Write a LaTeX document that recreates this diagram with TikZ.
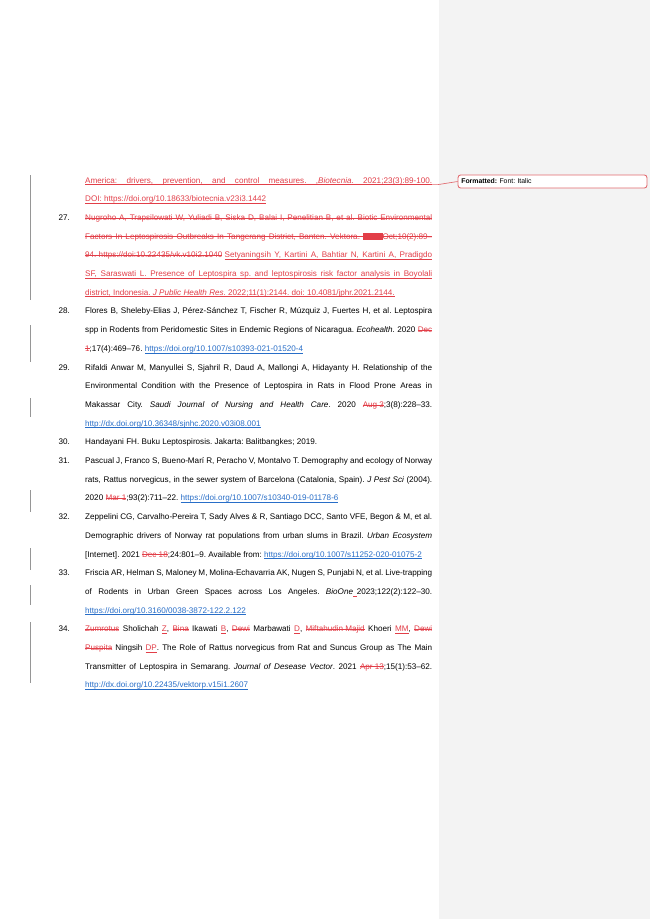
\documentclass[tikz,border=0pt]{standalone}
\usepackage{fontspec}
\setmainfont{Liberation Sans}
\frenchspacing
\definecolor{delred}{RGB}{226,62,72}
\definecolor{linkblue}{RGB}{40,110,200}
\definecolor{panelgray}{RGB}{243,243,243}
\definecolor{callred}{RGB}{225,105,110}
\definecolor{bargray}{RGB}{150,150,150}
\newlength\LW \setlength\LW{317.7pt}
\newlength\restw
\newsavebox\tb
\newcommand\strikeup{2.2pt}
\newcommand\ulpos{-1.5pt}
\newcommand\del[1]{{\color{delred}\sbox\tb{#1}\rlap{\rule[\strikeup]{\wd\tb}{0.4pt}}\usebox\tb}}
\newcommand\ins[1]{{\color{delred}\sbox\tb{#1}\rlap{\rule[\ulpos]{\wd\tb}{0.4pt}}\usebox\tb}}
\newcommand\lnk[1]{{\color{linkblue}\sbox\tb{#1}\rlap{\rule[\ulpos]{\wd\tb}{0.4pt}}\usebox\tb}}
\newcommand\J[1]{\hbox to \LW{#1}}
\newcommand\Jdel[1]{\hbox to \LW{\color{delred}\rlap{\rule[\strikeup]{\LW}{0.4pt}}#1}}
\newcommand\Jins[1]{\hbox to \LW{\color{delred}\rlap{\rule[\ulpos]{\LW}{0.4pt}}#1}}
\newcommand\Jsplit[2]{\sbox\tb{\del{#1}}\setlength\restw{\LW}\addtolength\restw{-\wd\tb}\addtolength\restw{-\fontdimen2\font}%
  \hbox to \LW{\usebox\tb\hskip\fontdimen2\font{\color{delred}\rlap{\rule[\ulpos]{\restw}{0.4pt}}\hbox to \restw{#2}}}}
\newcommand\hlbox[1]{{\setlength\fboxsep{0.6pt}\colorbox{delred}{\color{delred}#1}}}
\newcommand\redsp{{\color{delred}\rule[\ulpos]{3.5pt}{0.4pt}}}
\newcommand\reffont{\fontsize{7.43pt}{9pt}\selectfont}
\tikzset{
  ln/.style={anchor=base west, inner sep=0pt, font=\reffont},
  num/.style={anchor=base west, inner sep=0pt, font=\reffont},
  chbar/.style={draw=bargray, line width=1.1pt},
  callbox/.style={draw=callred, line width=0.8pt, fill=white, rounded corners=2.5pt,
    text width=167pt, inner xsep=3pt, inner ysep=0pt, minimum height=12pt, align=left,
    font=\fontsize{6.3pt}{7pt}\selectfont},
  callline/.style={draw=callred, line width=0.6pt}
}
\begin{document}
\begin{tikzpicture}[x=0.9155pt, y=-0.9155pt]
\useasboundingbox (0,0) rectangle (650,919);
\fill[white] (0,0) rectangle (650,919);
\fill[panelgray] (439,0) rectangle (650,919);
% change bars
\draw[chbar] (30.5,175) -- (30.5,300);
\draw[chbar] (30.5,325) -- (30.5,362);
\draw[chbar] (30.5,398) -- (30.5,417);
\draw[chbar] (30.5,490) -- (30.5,512);
\draw[chbar] (30.5,548) -- (30.5,570);
\draw[chbar] (30.5,585) -- (30.5,605);
\draw[chbar] (30.5,622) -- (30.5,683);
% reference lines
\def\X{85}
\node[ln] (l1) at (\X,183.0) {\Jins{America: drivers, prevention, and control measures. ,{\itshape Biotecnia}. 2021;23(3):89-100.}};
\node[ln] (l2) at (\X,201.7) {\ins{DOI: https://doi.org/10.18633/biotecnia.v23i3.1442}};
\node[num] (n27) at (58.5,220.4) {27.};
\node[ln] (l3) at (\X,220.4) {\Jdel{Nugroho A, Trapsilowati W, Yuliadi B, Siska D, Balai I, Penelitian B, et al. Biotic Environmental}};
\node[ln] (l4) at (\X,239.1) {\Jdel{Factors In Leptospirosis Outbreaks In Tangerang District, Banten. Vektora. \hlbox{2018}Oct;10(2):89–}};
\node[ln] (l5) at (\X,257.8) {\Jsplit{94. https://doi:10.22435/vk.v10i2.1040}{Setyaningsih Y, Kartini A, Bahtiar N, Kartini A, Pradigdo}};
\node[ln] (l6) at (\X,276.5) {\Jins{SF, Saraswati L. Presence of Leptospira sp. and leptospirosis risk factor analysis in Boyolali}};
\node[ln] (l7) at (\X,295.2) {\ins{district, Indonesia. {\itshape J Public Health Res}. 2022;11(1):2144. doi: 10.4081/jphr.2021.2144.}};
\node[num] (n28) at (58.5,313.9) {28.};
\node[ln] (l8) at (\X,313.9) {\J{Flores B, Sheleby-Elias J, Pérez-Sánchez T, Fischer R, Múzquiz J, Fuertes H, et al. Leptospira}};
\node[ln] (l9) at (\X,332.6) {\J{spp in Rodents from Peridomestic Sites in Endemic Regions of Nicaragua. {\itshape Ecohealth}. 2020 \del{Dec}}};
\node[ln] (l10) at (\X,351.3) {\del{1};17(4):469–76. \lnk{https://doi.org/10.1007/s10393-021-01520-4}};
\node[num] (n29) at (58.5,370.0) {29.};
\node[ln] (l11) at (\X,370.0) {\J{Rifaldi Anwar M, Manyullei S, Sjahril R, Daud A, Mallongi A, Hidayanty H. Relationship of the}};
\node[ln] (l12) at (\X,388.7) {\J{Environmental Condition with the Presence of Leptospira in Rats in Flood Prone Areas in}};
\node[ln] (l13) at (\X,407.4) {\J{Makassar City. {\itshape Saudi Journal of Nursing and Health Care}. 2020 \del{Aug 3};3(8):228–33.}};
\node[ln] (l14) at (\X,426.1) {\lnk{http://dx.doi.org/10.36348/sjnhc.2020.v03i08.001}};
\node[num] (n30) at (58.5,444.8) {30.};
\node[ln] (l15) at (\X,444.8) {Handayani FH. Buku Leptospirosis. Jakarta: Balitbangkes; 2019.};
\node[num] (n31) at (58.5,463.5) {31.};
\node[ln] (l16) at (\X,463.5) {\J{Pascual J, Franco S, Bueno-Marí R, Peracho V, Montalvo T. Demography and ecology of Norway}};
\node[ln] (l17) at (\X,482.2) {\J{rats, Rattus norvegicus, in the sewer system of Barcelona (Catalonia, Spain). {\itshape J Pest Sci} (2004).}};
\node[ln] (l18) at (\X,500.9) {2020 \del{Mar 1};93(2):711–22. \lnk{https://doi.org/10.1007/s10340-019-01178-6}};
\node[num] (n32) at (58.5,519.6) {32.};
\node[ln] (l19) at (\X,519.6) {\J{Zeppelini CG, Carvalho-Pereira T, Sady Alves \& R, Santiago DCC, Santo VFE, Begon \& M, et al.}};
\node[ln] (l20) at (\X,538.3) {\J{Demographic drivers of Norway rat populations from urban slums in Brazil. {\itshape Urban Ecosystem}}};
\node[ln] (l21) at (\X,557.0) {[Internet]. 2021 \del{Dec 18};24:801–9. Available from: \lnk{https://doi.org/10.1007/s11252-020-01075-2}};
\node[num] (n33) at (58.5,575.7) {33.};
\node[ln] (l22) at (\X,575.7) {\J{Friscia AR, Helman S, Maloney M, Molina-Echavarria AK, Nugen S, Punjabi N, et al. Live-trapping}};
\node[ln] (l23) at (\X,594.4) {\J{of Rodents in Urban Green Spaces across Los Angeles. {\itshape BioOne}\redsp2023;122(2):122–30.}};
\node[ln] (l24) at (\X,613.1) {\lnk{https://doi.org/10.3160/0038-3872-122.2.122}};
\node[num] (n34) at (58.5,631.8) {34.};
\node[ln] (l25) at (\X,631.8) {\J{\del{Zumrotus} Sholichah \ins{Z}, \del{Bina} Ikawati \ins{B}, \del{Dewi} Marbawati \ins{D}, \del{Miftahudin Majid} Khoeri \ins{MM}, \del{Dewi}}};
\node[ln] (l26) at (\X,650.5) {\J{\del{Puspita} Ningsih \ins{DP}. The Role of Rattus norvegicus from Rat and Suncus Group as The Main}};
\node[ln] (l27) at (\X,669.2) {\J{Transmitter of Leptospira in Semarang. {\itshape Journal of Desease Vector}. 2021 \del{Apr 13};15(1):53–62.}};
\node[ln] (l28) at (\X,687.9) {\lnk{http://dx.doi.org/10.22435/vektorp.v15i1.2607}};
% callout
\node[callbox] (fmt) at (552.5,181.5) {\textbf{Formatted:} Font: Italic};
\coordinate (anc) at (432,184.6);
\draw[callline] (anc) -- ++(6,0) -- (fmt.west);
\end{tikzpicture}
\end{document}
